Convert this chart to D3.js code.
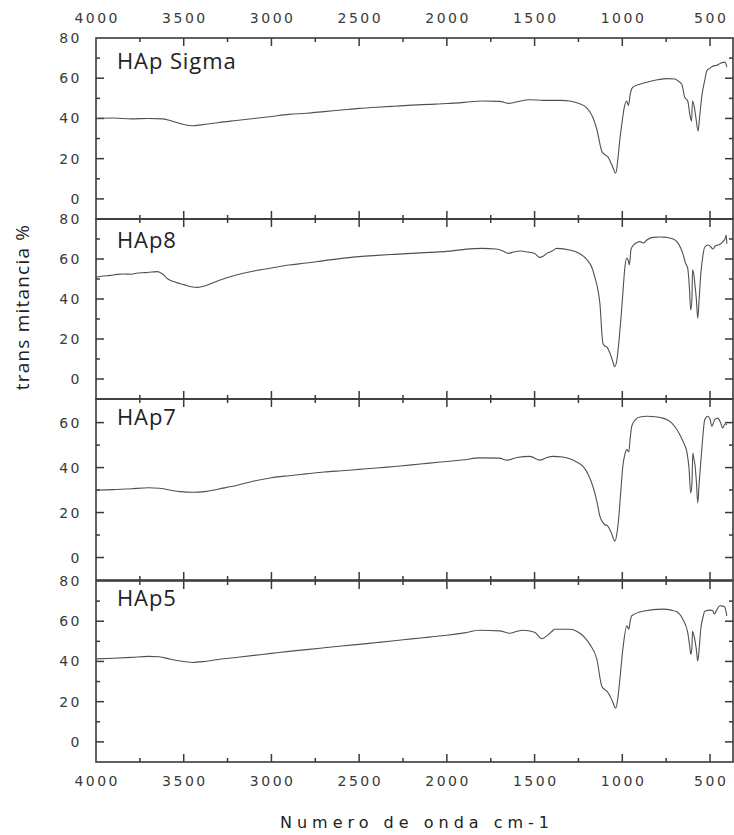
<!DOCTYPE html>
<html><head><meta charset="utf-8">
<script src="https://cdn.jsdelivr.net/npm/d3@7"></script>
<style>
html,body{margin:0;padding:0;background:#fff;}
svg{display:block;}
</style></head>
<body>
<svg id="chart" width="734" height="835"></svg>
<script>
// ---- data ----
const panelNames = ["HAp Sigma", "HAp8", "HAp7", "HAp5"];
const xTickValues = [4000, 3500, 3000, 2500, 2000, 1500, 1000, 500];
const xMinorValues = [3750, 3250, 2750, 2250, 1750, 1250, 750];
const yTickSets = [[0, 20, 40, 60, 80], [0, 20, 40, 60, 80], [0, 20, 40, 60], [0, 20, 40, 60, 80]];
const yMinorSets = [[10, 30, 50, 70], [10, 30, 50, 70], [10, 30, 50], [10, 30, 50, 70]];
const yDomains = [[-10, 80], [-10, 80], [-10, 70.5], [-10, 80]];

const hapSigma = [[4000,40],[3900,40.2],[3800,39.8],[3700,40],[3620,39.8],[3560,38.5],[3500,37],[3450,36.4],[3400,36.8],[3300,38],[3200,39],[3100,40],[3000,41],[2900,42],[2800,42.6],[2700,43.4],[2600,44.2],[2500,45],[2400,45.6],[2300,46.1],[2200,46.6],[2100,47],[2000,47.4],[1900,48],[1800,48.7],[1700,48.5],[1650,47.5],[1600,48.3],[1530,49.3],[1450,49],[1350,49],[1300,48.7],[1250,47.5],[1200,45],[1170,41],[1145,34.5],[1117,23.7],[1100,22],[1083,21],[1060,17],[1037,12.8],[1025,20],[1014,29.5],[1000,39],[991,44.5],[975,48.7],[965,46.5],[955,52],[940,55.5],[900,57],[860,58],[800,59.2],[746,59.8],[700,59.6],[680,58.5],[661,57],[644,50.5],[627,48.7],[615,42],[605,38.7],[600,48.7],[590,46],[580,40],[568,33.7],[560,40],[547,51],[530,59],[518,63.7],[500,65],[484,66],[460,66.5],[440,67.5],[427,67.8],[415,68],[404,65.5]];

const hap8 = [[4000,51],[3960,51.5],[3920,51.8],[3880,52.3],[3840,52.5],[3800,52.4],[3760,53],[3720,53.2],[3680,53.5],[3650,53.7],[3620,52.5],[3590,50],[3550,48.5],[3500,47.2],[3450,46],[3420,45.8],[3380,46.5],[3300,49.3],[3200,52],[3100,54],[3000,55.5],[2900,57],[2800,58],[2700,59.2],[2600,60.3],[2500,61.2],[2400,61.8],[2300,62.3],[2200,62.8],[2100,63.3],[2000,63.8],[1900,64.8],[1800,65.3],[1720,65],[1680,64],[1650,62.8],[1620,63.5],[1580,64],[1540,63.5],[1500,62.8],[1470,60.8],[1450,61.5],[1430,62.8],[1400,64],[1373,65.3],[1300,64.5],[1250,63],[1200,59.5],[1170,55],[1157,51],[1140,45],[1128,38],[1111,18],[1100,16.5],[1088,16],[1071,13],[1055,9],[1043,6.2],[1030,10],[1020,18],[1008,30],[997,42.8],[985,56],[975,60.5],[965,59],[960,57],[950,65],[930,67.5],[900,68.7],[880,68],[860,69.5],[826,70.8],[780,71],[746,70.8],[710,70],[689,68.7],[670,66],[655,62.8],[640,58],[627,55.3],[617,45],[610,34.5],[603,40],[600,54.5],[592,52],[587,48],[578,40],[570,30.3],[562,40],[553,52],[540,62],[530,66],[510,67],[495,66],[484,65],[470,66.5],[455,67],[440,67.5],[427,68.7],[415,70],[408,72],[404,67.6]];

const hap7 = [[4000,30],[3900,30.2],[3800,30.6],[3700,31],[3640,30.8],[3580,30],[3520,29.3],[3450,29],[3380,29.3],[3300,30.5],[3200,32],[3100,34],[3000,35.5],[2900,36.4],[2800,37.2],[2700,38],[2600,38.6],[2500,39.2],[2400,39.8],[2300,40.5],[2200,41.2],[2100,42],[2000,42.7],[1900,43.5],[1812,44.3],[1700,44.2],[1658,43.3],[1600,44.5],[1527,45],[1470,43.3],[1430,44.5],[1396,45],[1340,44.7],[1299,43.9],[1260,42.5],[1225,40.6],[1195,37],[1168,31.7],[1145,25],[1128,18.4],[1110,15.5],[1100,14.7],[1083,14],[1060,10.5],[1043,7.3],[1030,11],[1020,18],[1008,30],[997,40.6],[985,46],[974,48],[963,47],[955,53],[946,58.4],[929,61],[900,62.5],[860,62.8],[800,62.5],[769,62],[720,60],[689,56.9],[665,53.5],[650,51],[632,47],[620,40],[610,28.7],[603,33],[598,46.5],[592,44],[585,40.6],[577,33],[570,24.3],[562,33],[547,48],[530,61.3],[513,62.8],[500,61.5],[490,58.4],[480,60],[473,61.3],[456,62],[440,60],[427,57.6],[415,59.5],[404,59]];

const hap5 = [[4000,41.3],[3900,41.6],[3800,42],[3700,42.5],[3640,42.3],[3580,41.2],[3520,40.2],[3450,39.5],[3380,40],[3300,41],[3200,42],[3100,43],[3000,44],[2900,45],[2800,45.9],[2700,46.8],[2600,47.7],[2500,48.5],[2400,49.4],[2300,50.3],[2200,51.2],[2100,52.1],[2000,53],[1900,54.2],[1812,55.5],[1700,55.2],[1641,54],[1600,55],[1567,55.5],[1500,54.5],[1459,51.3],[1430,52.7],[1400,55],[1385,56],[1299,56],[1242,54],[1210,51.5],[1185,48.5],[1145,41],[1117,27.7],[1100,26],[1088,25.2],[1060,21],[1037,16.8],[1025,22],[1014,31],[997,46],[974,57.7],[963,56],[955,60],[946,62.7],[883,65],[769,66],[720,65.5],[689,64.7],[655,61],[627,54.3],[615,47],[610,43.5],[603,47],[600,55],[592,53],[587,51],[578,46],[570,40.2],[562,46],[553,56],[540,62],[530,65],[500,65.5],[484,65.2],[476,63.5],[465,65],[444,67.7],[425,67.5],[416,67],[404,62.7]];

const spectra = [hapSigma, hap8, hap7, hap5];

// ---- layout ----
const left = 96, right = 733;
const panelTops = [38, 219, 399, 581];
const panelBottoms = [219, 399, 580, 762];
const labelOffsets = [31, 29, 26, 25];
const frameColor = "#3a3a3a";
const textColor = "#3a3a3a";
const lineColor = "#505050";

const svg = d3.select("#chart");
const x = d3.scaleLinear().domain([4000, 369]).range([left, right]);

const line = (y) => d3.line().x(d => x(d[0])).y(d => y(d[1])).curve(d3.curveMonotoneX);

spectra.forEach((data, i) => {
  const top = panelTops[i], bottom = panelBottoms[i];
  const y = d3.scaleLinear().domain(yDomains[i]).range([bottom, top]);
  const g = svg.append("g");

  g.append("rect").attr("x", left).attr("y", top).attr("width", right - left).attr("height", bottom - top)
    .attr("fill", "none").attr("stroke", frameColor).attr("stroke-width", 1.6);

  const drawX = (vals, len) => {
    vals.forEach(v => {
      g.append("line").attr("x1", x(v)).attr("x2", x(v)).attr("y1", top).attr("y2", top + len)
        .attr("stroke", frameColor).attr("stroke-width", 1.5);
      g.append("line").attr("x1", x(v)).attr("x2", x(v)).attr("y1", bottom).attr("y2", bottom - len)
        .attr("stroke", frameColor).attr("stroke-width", 1.5);
    });
  };
  drawX(xTickValues.filter(v => v < 4000), 8);
  drawX(xMinorValues, 4);

  const drawY = (vals, len) => {
    vals.forEach(v => {
      g.append("line").attr("x1", left).attr("x2", left + len).attr("y1", y(v)).attr("y2", y(v))
        .attr("stroke", frameColor).attr("stroke-width", 1.5);
      g.append("line").attr("x1", right).attr("x2", right - len).attr("y1", y(v)).attr("y2", y(v))
        .attr("stroke", frameColor).attr("stroke-width", 1.5);
    });
  };
  drawY(yTickSets[i].filter(v => v < yDomains[i][1]), 8);
  drawY(yMinorSets[i].filter(v => v < yDomains[i][1]), 4);

  g.selectAll("text.yl").data(yTickSets[i]).enter().append("text")
    .attr("x", left - 14).attr("y", d => y(d)).attr("dy", "0.36em")
    .attr("text-anchor", "end").attr("font-family", "DejaVu Sans").attr("font-size", 14)
    .attr("letter-spacing", 2.5).attr("fill", textColor).text(d => d);

  g.append("path").datum(data).attr("d", line(y)).attr("fill", "none")
    .attr("stroke", lineColor).attr("stroke-width", 1.1).attr("stroke-linejoin", "round");

  g.append("text").attr("x", left + 21).attr("y", top + labelOffsets[i])
    .attr("font-family", "Open Sans").attr("font-size", 22).attr("letter-spacing", 0.9).attr("fill", "#222")
    .text(panelNames[i]);
});

[18, 781].forEach(ty => {
  svg.append("g").selectAll("text").data(xTickValues).enter().append("text")
    .attr("x", d => x(d) + 1.2).attr("y", ty).attr("dy", "0.36em").attr("text-anchor", "middle")
    .attr("font-family", "DejaVu Sans").attr("font-size", 14).attr("letter-spacing", 2.5)
    .attr("fill", textColor).text(d => d);
});

svg.append("text").attr("x", (left + right) / 2 + 2.5).attr("y", 828).attr("text-anchor", "middle")
  .attr("font-family", "DejaVu Sans").attr("font-size", 16).attr("letter-spacing", 5)
  .attr("fill", "#222").text("Numero de onda cm-1");

svg.append("text").attr("transform", "translate(29,307) rotate(-90)").attr("text-anchor", "middle")
  .attr("font-family", "Open Sans").attr("font-size", 19).attr("letter-spacing", 1.2).attr("fill", "#222")
  .text("trans mitancia %");
</script>
</body></html>
